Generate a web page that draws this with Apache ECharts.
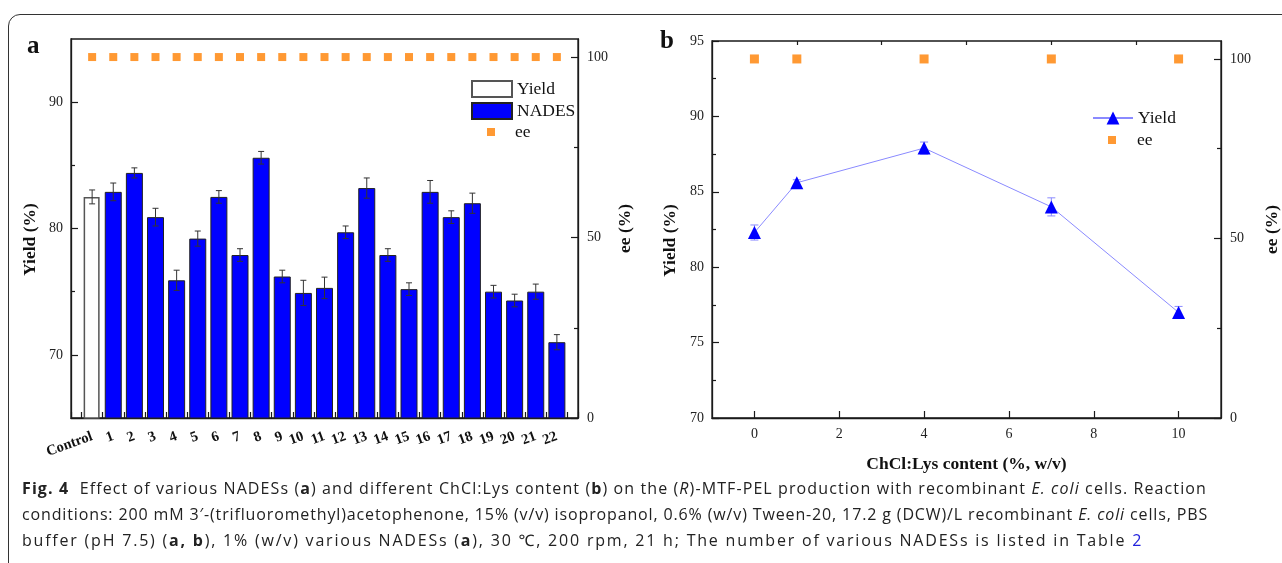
<!DOCTYPE html>
<html>
<head>
<meta charset="utf-8">
<script src="https://cdn.jsdelivr.net/npm/echarts@6/dist/echarts.min.js"></script>
<style>
  html, body { margin: 0; padding: 0; background: #fff; overflow: hidden; }
  #wrap { position: relative; width: 1282px; height: 563px; overflow: hidden; }
  #frame { position: absolute; left: 8px; top: 14px; width: 1400px; height: 600px;
           border: 1.3px solid #333; border-radius: 12px; box-sizing: border-box; }
  #chart { position: absolute; left: 0; top: 0; width: 1282px; height: 563px; }
  #caption { position: absolute; left: 22px; top: 475px; font-family: 'Open Sans', 'Noto Sans', sans-serif;
             font-size: 16px; line-height: 26px; color: #222; white-space: nowrap; }
  #caption div { display: block; }
  #caption span.l { display: inline-block; }
  #caption a { color: #2222dd; text-decoration: none; }
</style>
</head>
<body>
<div id="wrap">
  <div id="frame"></div>
  <div id="chart"></div>
  <div id="caption">
    <div><span class="l" data-w="1185"><b>Fig. 4</b>&nbsp; Effect of various NADESs (<b>a</b>) and different ChCl:Lys content (<b>b</b>) on the (<i>R</i>)-MTF-PEL production with recombinant <i>E. coli</i> cells. Reaction</span></div>
    <div><span class="l" data-w="1186">conditions: 200 mM 3′-(trifluoromethyl)acetophenone, 15% (v/v) isopropanol, 0.6% (w/v) Tween-20, 17.2 g (DCW)/L recombinant <i>E. coli</i> cells, PBS</span></div>
    <div><span class="l" data-w="1121">buffer (pH 7.5) (<b>a, b</b>), 1% (w/v) various NADESs (<b>a</b>), 30 ℃, 200 rpm, 21 h; The number of various NADESs is listed in Table <a>2</a></span></div>
  </div>
</div>
<script>
// ---- Panel a data ----
const categories = ['Control','1','2','3','4','5','6','7','8','9','10','11','12','13','14','15','16','17','18','19','20','21','22'];
const yieldA = [82.5, 82.9, 84.4, 80.9, 75.9, 79.2, 82.5, 77.9, 85.6, 76.2, 74.9, 75.3, 79.7, 83.2, 77.9, 75.2, 82.9, 80.9, 82.0, 75.0, 74.3, 75.0, 71.0];
const errA = [0.55, 0.7, 0.4, 0.7, 0.8, 0.6, 0.5, 0.5, 0.5, 0.5, 1.0, 0.85, 0.5, 0.8, 0.5, 0.5, 0.9, 0.5, 0.8, 0.5, 0.5, 0.6, 0.6];
const eeA = [100, 100, 100, 100, 100, 100, 100, 100, 100, 100, 100, 100, 100, 100, 100, 100, 100, 100, 100, 100, 100, 100, 100];
const yLabelsA = [70, 80, 90];
const yMinorA = [75, 85];
const eeLabels = [0, 50, 100];
const eeMinor = [25, 75];

// ---- Panel b data ----
const contentB = [0, 1, 4, 7, 10];
const yieldB = [82.3, 85.6, 87.9, 84.0, 77.0];
const errB = [0.5, 0.2, 0.4, 0.6, 0.4];
const eeB = [100, 100, 100, 100, 100];
const xLabelsB = [0, 2, 4, 6, 8, 10];
const xMinorB = [1, 3, 5, 7, 9];
const yLabelsB = [70, 75, 80, 85, 90, 95];
const yMinorB = [72.5, 77.5, 82.5, 87.5, 92.5];

// caption: spread letters so each line spans the same width as in the figure
Array.prototype.forEach.call(document.querySelectorAll('#caption span.l'), function (el) {
  const w = el.getBoundingClientRect().width;
  const n = el.textContent.length;
  const ls = (parseFloat(el.getAttribute('data-w')) - w) / n;
  el.style.letterSpacing = ls.toFixed(3) + 'px';
});

const SERIF = 'Liberation Serif, Times New Roman, serif';
const AX = '#1a1a1a';

function errRenderer(color, half) {
  return function (params, api) {
    const x = api.value(0), lo = api.value(1), hi = api.value(2);
    const p1 = api.coord([x, lo]), p2 = api.coord([x, hi]);
    const st = { stroke: color, lineWidth: 1 };
    return { type: 'group', children: [
      { type: 'line', shape: { x1: p1[0], y1: p1[1], x2: p2[0], y2: p2[1] }, style: st },
      { type: 'line', shape: { x1: p1[0] - half, y1: p1[1], x2: p1[0] + half, y2: p1[1] }, style: st },
      { type: 'line', shape: { x1: p2[0] - half, y1: p2[1], x2: p2[0] + half, y2: p2[1] }, style: st }
    ]};
  };
}

function baseAxis(extra) {
  return Object.assign({
    type: 'value',
    axisLine: { show: true, onZero: false, lineStyle: { color: AX, width: 1.3 } },
    axisTick: { show: true, inside: true, length: 7, lineStyle: { color: AX, width: 1.2 } },
    axisLabel: { fontFamily: SERIF, fontSize: 14, color: '#222' },
    splitLine: { show: false }
  }, extra);
}
function minorAxis(extra, ticks) {
  return Object.assign({
    type: 'value',
    axisLine: { show: false, onZero: false },
    axisTick: { show: true, inside: true, length: 4, customValues: ticks, lineStyle: { color: AX, width: 1.2 } },
    axisLabel: { show: false },
    splitLine: { show: false }
  }, extra);
}

const chart = echarts.init(document.getElementById('chart'), null, { renderer: 'canvas' });
const LTXT = { fontFamily: SERIF, fontSize: 17.5, color: '#111', lineHeight: 20 };

const option = {
  animation: false,
  grid: [
    { left: 71, top: 39, right: 704, bottom: 145, show: true, borderColor: AX, borderWidth: 1.3 },
    { left: 712, top: 41, right: 60, bottom: 145, show: true, borderColor: AX, borderWidth: 1.3 }
  ],
  xAxis: [
    baseAxis({
      gridIndex: 0, min: -1, max: 23, interval: 1,
      axisTick: { show: true, inside: true, length: 6, lineStyle: { color: AX, width: 1.2 } },
      minorTick: { show: true, splitNumber: 2, length: 6, lineStyle: { color: AX, width: 1.2 } },
      axisLabel: {
        fontFamily: SERIF, fontSize: 14.5, fontWeight: 'bold', color: '#111', rotate: 20, margin: 18,
        showMinLabel: true, showMaxLabel: true,
        formatter: function (v) { return (v >= 0 && v < categories.length) ? categories[v] : ''; }
      }
    }),
    baseAxis({
      gridIndex: 1, min: -1, max: 11,
      axisTick: { show: true, inside: true, length: 7, customValues: xLabelsB, lineStyle: { color: AX, width: 1.2 } },
      axisLabel: { fontFamily: SERIF, fontSize: 14, color: '#222', margin: 9, customValues: xLabelsB },
      name: 'ChCl:Lys content (%, w/v)', nameLocation: 'middle', nameGap: 37,
      nameTextStyle: { fontFamily: SERIF, fontSize: 17.5, fontWeight: 'bold', color: '#111' }
    }),
    minorAxis({ gridIndex: 1, min: -1, max: 11 }, xMinorB)
  ],
  yAxis: [
    baseAxis({
      gridIndex: 0, min: 65, max: 95, position: 'left',
      axisTick: { show: true, inside: true, length: 7, customValues: yLabelsA, lineStyle: { color: AX, width: 1.2 } },
      axisLabel: { fontFamily: SERIF, fontSize: 14, color: '#222', margin: 8, customValues: yLabelsA },
      name: 'Yield (%)', nameLocation: 'middle', nameGap: 32,
      nameTextStyle: { fontFamily: SERIF, fontSize: 17.5, fontWeight: 'bold', color: '#111', padding: [0, 0, 0, -22] }
    }),
    baseAxis({
      gridIndex: 0, min: 0, max: 105, position: 'right',
      axisTick: { show: true, inside: true, length: 7, customValues: eeLabels, lineStyle: { color: AX, width: 1.2 } },
      axisLabel: { fontFamily: SERIF, fontSize: 14, color: '#222', margin: 9, customValues: eeLabels },
      name: 'ee (%)', nameLocation: 'middle', nameGap: 38,
      nameTextStyle: { fontFamily: SERIF, fontSize: 17.5, fontWeight: 'bold', color: '#111' }
    }),
    minorAxis({ gridIndex: 0, min: 65, max: 95, position: 'left' }, yMinorA),
    minorAxis({ gridIndex: 0, min: 0, max: 105, position: 'right' }, eeMinor),
    baseAxis({
      gridIndex: 1, min: 70, max: 95, position: 'left',
      axisTick: { show: true, inside: true, length: 7, customValues: yLabelsB, lineStyle: { color: AX, width: 1.2 } },
      axisLabel: { fontFamily: SERIF, fontSize: 14, color: '#222', margin: 8, customValues: yLabelsB },
      name: 'Yield (%)', nameLocation: 'middle', nameGap: 33,
      nameTextStyle: { fontFamily: SERIF, fontSize: 17.5, fontWeight: 'bold', color: '#111', padding: [0, 0, 0, -22] }
    }),
    baseAxis({
      gridIndex: 1, min: 0, max: 105, position: 'right',
      axisTick: { show: true, inside: true, length: 7, customValues: eeLabels, lineStyle: { color: AX, width: 1.2 } },
      axisLabel: { fontFamily: SERIF, fontSize: 14, color: '#222', margin: 9, customValues: eeLabels },
      name: 'ee (%)', nameLocation: 'middle', nameGap: 42,
      nameTextStyle: { fontFamily: SERIF, fontSize: 17.5, fontWeight: 'bold', color: '#111' }
    }),
    minorAxis({ gridIndex: 1, min: 70, max: 95, position: 'left' }, yMinorB),
    minorAxis({ gridIndex: 1, min: 0, max: 105, position: 'right' }, eeMinor)
  ],
  legend: [
    { data: [{ name: 'Yield', icon: 'rect' }, { name: 'NADES', icon: 'rect' }], orient: 'vertical', left: 471, top: 79,
      padding: 0, itemWidth: 40, itemHeight: 16, itemGap: 2, textStyle: LTXT, selectedMode: false },
    { data: ['ee'], orient: 'vertical', left: 487, top: 122, padding: 0, itemWidth: 8, itemHeight: 8,
      textStyle: Object.assign({ padding: [0, 0, 0, 15] }, LTXT), selectedMode: false },
    { data: ['Yield (b)'], orient: 'vertical', left: 1092, top: 108, padding: 0, itemWidth: 40, itemHeight: 16,
      formatter: function (n) { return n.replace(' (b)', ''); }, textStyle: LTXT, selectedMode: false },
    { data: ['ee (b)'], orient: 'vertical', left: 1108, top: 130, padding: 0, itemWidth: 8, itemHeight: 8,
      formatter: function (n) { return n.replace(' (b)', ''); },
      textStyle: Object.assign({ padding: [0, 0, 0, 16] }, LTXT), selectedMode: false }
  ],
  graphic: [
    { type: 'text', left: 27, top: 34, style: { text: 'a', font: 'bold 25px ' + SERIF, fill: '#111' } },
    { type: 'text', left: 660, top: 29, style: { text: 'b', font: 'bold 25px ' + SERIF, fill: '#111' } }
  ],
  series: [
    {
      name: 'Yield', type: 'bar', xAxisIndex: 0, yAxisIndex: 0, barWidth: 16, barGap: '-100%',
      itemStyle: { color: '#ffffff', borderColor: '#555', borderWidth: 1.5 },
      data: [[0, yieldA[0]]]
    },
    {
      name: 'NADES', type: 'bar', xAxisIndex: 0, yAxisIndex: 0, barWidth: 17, barGap: '-100%',
      itemStyle: { color: '#0000ff', borderColor: '#222', borderWidth: 1 },
      data: yieldA.slice(1).map(function (v, i) { return [i + 1, v]; })
    },
    {
      name: 'errA', type: 'custom', xAxisIndex: 0, yAxisIndex: 0, z: 5,
      renderItem: errRenderer('#333', 3),
      data: yieldA.map(function (v, i) { return [i, v - errA[i], v + errA[i]]; })
    },
    {
      name: 'ee', type: 'scatter', xAxisIndex: 0, yAxisIndex: 1, symbol: 'rect', symbolSize: 8,
      itemStyle: { color: '#ff8000' },
      data: eeA.map(function (v, i) { return [i, v]; })
    },
    {
      name: 'errB', type: 'custom', xAxisIndex: 1, yAxisIndex: 4, z: 3,
      renderItem: errRenderer('#8a8aff', 4),
      data: yieldB.map(function (v, i) { return [contentB[i], v - errB[i], v + errB[i]]; })
    },
    {
      name: 'Yield (b)', type: 'line', xAxisIndex: 1, yAxisIndex: 4, z: 4,
      symbol: 'triangle', symbolSize: 13,
      lineStyle: { color: '#8a8aff', width: 1 },
      itemStyle: { color: '#0000ff' },
      data: yieldB.map(function (v, i) { return [contentB[i], v]; })
    },
    {
      name: 'ee (b)', type: 'scatter', xAxisIndex: 1, yAxisIndex: 5, symbol: 'rect', symbolSize: 9,
      itemStyle: { color: '#ff8000' },
      data: eeB.map(function (v, i) { return [contentB[i], v]; })
    }
  ]
};
chart.setOption(option);
</script>
</body>
</html>
